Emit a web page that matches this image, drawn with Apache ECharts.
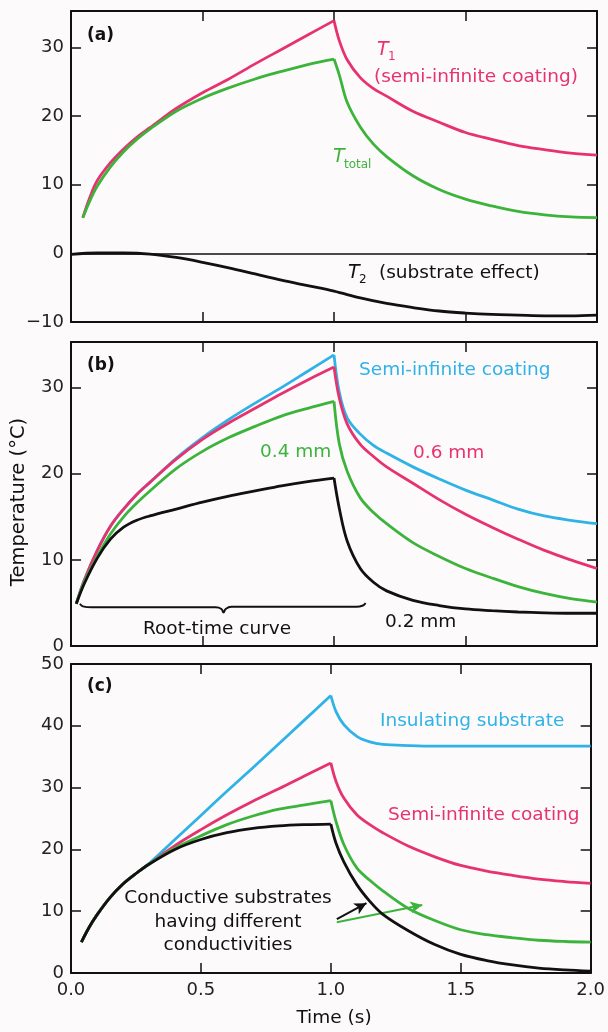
<!DOCTYPE html>
<html>
<head>
<meta charset="utf-8">
<script src="https://cdn.jsdelivr.net/npm/echarts@6.0.0/dist/echarts.min.js"></script>
<style>
html, body { margin: 0; padding: 0; background: #fdfafc; }
#chart { width: 608px; height: 1032px; }
</style>
</head>
<body>
<div id="chart"></div>
<script>
// panel (a): semi-infinite coating, total, substrate effect
const timeA = [0.045, 0.07, 0.1, 0.15, 0.2, 0.25, 0.3, 0.4, 0.5, 0.6, 0.7, 0.8, 0.9, 1.0, 1.02, 1.05, 1.1, 1.15, 1.2, 1.3, 1.4, 1.5, 1.6, 1.7, 1.8, 1.9, 2.0]
const t1A = [5.2, 8.0, 10.6, 13.2, 15.2, 16.9, 18.3, 21.1, 23.4, 25.4, 27.6, 29.7, 31.8, 33.9, 31.0, 28.2, 25.6, 24.0, 22.9, 20.7, 19.1, 17.6, 16.6, 15.7, 15.1, 14.6, 14.3]
const totalA = [5.2, 7.5, 9.8, 12.6, 14.8, 16.6, 18.1, 20.7, 22.6, 24.1, 25.4, 26.5, 27.5, 28.3, 26.0, 22.0, 18.4, 15.9, 14.1, 11.3, 9.3, 7.9, 6.9, 6.1, 5.6, 5.3, 5.2]
const timeT2 = [0, 0.1, 0.2, 0.3, 0.4, 0.5, 0.6, 0.7, 0.8, 0.9, 1.0, 1.1, 1.2, 1.3, 1.4, 1.5, 1.6, 1.7, 1.8, 1.9, 2.0]
const t2A = [-0.15, 0.05, 0.05, -0.1, -0.6, -1.3, -2.1, -3.0, -3.9, -4.7, -5.5, -6.5, -7.3, -7.9, -8.4, -8.7, -8.9, -9.0, -9.1, -9.1, -9.0]

// panel (b): coating thickness
const timeB = [0.02, 0.05, 0.1, 0.15, 0.2, 0.25, 0.3, 0.4, 0.5, 0.6, 0.7, 0.8, 0.9, 1.0, 1.02, 1.05, 1.1, 1.15, 1.2, 1.3, 1.4, 1.5, 1.6, 1.7, 1.8, 1.9, 2.0]
const semiB = [4.9, 7.6, 11.1, 13.9, 15.9, 17.6, 19.0, 21.8, 24.2, 26.3, 28.2, 30.0, 31.9, 33.8, 29.5, 26.5, 24.6, 23.3, 22.4, 20.8, 19.4, 18.1, 17.0, 15.9, 15.1, 14.6, 14.2]
const mm06 = [4.9, 7.6, 11.1, 13.9, 15.9, 17.6, 19.0, 21.7, 24.0, 25.9, 27.6, 29.3, 30.9, 32.4, 28.8, 25.8, 23.4, 22.0, 20.8, 18.9, 17.0, 15.3, 13.8, 12.4, 11.1, 10.0, 9.0]
const mm04 = [4.9, 7.4, 10.4, 13.0, 15.0, 16.6, 18.0, 20.6, 22.6, 24.2, 25.5, 26.7, 27.6, 28.4, 23.5, 20.3, 17.2, 15.5, 14.2, 12.0, 10.4, 9.0, 7.9, 6.9, 6.1, 5.5, 5.1]
const mm02 = [4.9, 7.2, 10.2, 12.4, 13.8, 14.6, 15.1, 15.9, 16.7, 17.4, 18.0, 18.6, 19.1, 19.5, 16.0, 12.2, 9.0, 7.4, 6.4, 5.3, 4.7, 4.3, 4.1, 3.95, 3.85, 3.8, 3.8]
const braceX = [0.034, 0.045, 0.08, 0.55, 0.572, 0.58, 0.588, 0.61, 1.085, 1.11, 1.12]
const braceY = [4.9, 4.6, 4.49, 4.49, 4.3, 3.9, 4.3, 4.55, 4.55, 4.7, 5.0]

// panel (c): substrate conductivity
const timeC = [0.04, 0.07, 0.1, 0.15, 0.2, 0.25, 0.3, 0.4, 0.5, 0.6, 0.7, 0.8, 0.9, 1.0, 1.02, 1.05, 1.1, 1.15, 1.2, 1.3, 1.4, 1.5, 1.6, 1.7, 1.8, 1.9, 2.0]
const insulC = [5.0, 7.4, 9.4, 12.2, 14.4, 16.1, 17.7, 21.6, 25.5, 29.4, 33.2, 37.1, 41.0, 44.9, 42.3, 40.2, 38.3, 37.4, 37.0, 36.8, 36.7, 36.7, 36.7, 36.7, 36.7, 36.7, 36.7]
const semiC = [5.0, 7.4, 9.4, 12.2, 14.4, 16.1, 17.6, 20.6, 23.2, 25.6, 27.8, 29.8, 31.9, 34.0, 31.0, 28.3, 25.6, 24.0, 22.7, 20.5, 18.8, 17.4, 16.5, 15.8, 15.2, 14.8, 14.5]
const condGreen = [5.0, 7.4, 9.4, 12.2, 14.4, 16.1, 17.6, 20.2, 22.2, 24.0, 25.4, 26.5, 27.2, 27.9, 24.5, 20.8, 17.0, 15.0, 13.3, 10.4, 8.5, 7.0, 6.2, 5.7, 5.3, 5.1, 5.0]
const condBlack = [5.0, 7.4, 9.4, 12.2, 14.4, 16.1, 17.6, 20.0, 21.6, 22.7, 23.4, 23.8, 24.0, 24.1, 21.0, 18.0, 14.3, 11.6, 9.5, 6.8, 4.6, 3.0, 2.0, 1.3, 0.8, 0.5, 0.3]
const arrowBlack = [[1.023, 8.7], [1.137, 11.3]]
const arrowGreen = [[1.023, 8.2], [1.352, 11.0]]

const xTicks = [0, 2, 0.5]
const yRanges = [[-10, 35.3], [0, 35.3], [0, 50]]

const PINK = '#e6336f'
const BLUE = '#2fb3e6'
const GREEN = '#3cb43c'
const BLACK = '#111111'
const FONT = 'DejaVu Sans'
const PEAK = 13

var myChart = echarts.init(document.getElementById('chart'))

const grids = [
  { left: 71, right: 11, top: 11, height: 311 },
  { left: 71, right: 11, top: 342, height: 304 },
  { left: 71, right: 11, top: 664, height: 309 }
]

let xAxes = []
let yAxes = []
for (let g = 0; g < 3; g++) {
  for (const pos of ['bottom', 'top']) {
    xAxes.push({
      type: 'value', gridIndex: g, position: pos,
      min: xTicks[0], max: xTicks[1], interval: xTicks[2],
      axisLine: { show: true, onZero: false, lineStyle: { color: BLACK, width: 2 } },
      axisTick: { inside: true, length: 10, lineStyle: { color: BLACK, width: 1.5 } },
      axisLabel: {
        show: g === 2 && pos === 'bottom', margin: 8,
        color: '#222', fontSize: 18, fontFamily: FONT,
        formatter: v => v.toFixed(1)
      },
      splitLine: { show: false }
    })
  }
  for (const pos of ['left', 'right']) {
    yAxes.push({
      type: 'value', gridIndex: g, position: pos,
      min: yRanges[g][0], max: yRanges[g][1], interval: 10,
      axisLine: { show: true, onZero: false, lineStyle: { color: BLACK, width: 2 } },
      axisTick: { inside: true, length: 10, lineStyle: { color: BLACK, width: 1.5 } },
      axisLabel: {
        show: pos === 'left', margin: 7,
        color: '#222', fontSize: 18, fontFamily: FONT,
        formatter: v => (v % 10 === 0 ? (v < 0 ? '\u2212' + Math.abs(v) : String(v)) : '')
      },
      splitLine: { show: false }
    })
  }
}

function curve(g, xs, ys, color, z, peak) {
  const pts = xs.map((x, i) => [x, ys[i]])
  const parts = peak ? [pts.slice(0, peak + 1), pts.slice(peak)] : [pts]
  return parts.map(d => ({
    type: 'line', xAxisIndex: 2 * g, yAxisIndex: 2 * g, data: d,
    smooth: 0.35, showSymbol: false, silent: true, z: z,
    lineStyle: { color: color, width: 2.8 }, itemStyle: { color: color }
  }))
}

function arrow(pair, color) {
  return {
    silent: true, symbol: ['none', 'arrow'], symbolSize: [9, 12],
    label: { show: false },
    lineStyle: { color: color, width: 2, type: 'solid' },
    data: [[{ coord: pair[0] }, { coord: pair[1] }]]
  }
}

let series = [].concat(
  curve(0, timeA, t1A, PINK, 2, PEAK),
  curve(0, timeA, totalA, GREEN, 3, PEAK),
  curve(0, timeT2, t2A, BLACK, 4),
  curve(1, timeB, semiB, BLUE, 2, PEAK),
  curve(1, timeB, mm06, PINK, 3, PEAK),
  curve(1, timeB, mm04, GREEN, 4, PEAK),
  curve(1, timeB, mm02, BLACK, 5, PEAK),
  curve(2, timeC, insulC, BLUE, 2, PEAK),
  curve(2, timeC, semiC, PINK, 3, PEAK),
  curve(2, timeC, condGreen, GREEN, 4, PEAK),
  curve(2, timeC, condBlack, BLACK, 5, PEAK)
)

// zero line in panel (a)
series[4].markLine = {
  silent: true, symbol: 'none', label: { show: false },
  lineStyle: { color: BLACK, width: 1.5, type: 'solid' },
  data: [{ yAxis: 0 }]
}

// brace under the root-time part of panel (b)
series.push({
  type: 'line', xAxisIndex: 2, yAxisIndex: 2,
  data: braceX.map((x, i) => [x, braceY[i]]),
  smooth: 0.4, showSymbol: false, silent: true,
  lineStyle: { color: BLACK, width: 2 }
})

// arrows in panel (c)
series.push({
  type: 'line', xAxisIndex: 4, yAxisIndex: 4, data: [], silent: true,
  markLine: arrow(arrowBlack, BLACK)
})
series.push({
  type: 'line', xAxisIndex: 4, yAxisIndex: 4, data: [], silent: true,
  markLine: arrow(arrowGreen, GREEN)
})

function txt(x, y, text, color, font, align, extra) {
  return Object.assign({
    type: 'text', x: x, y: y, silent: true, z: 100,
    style: {
      text: text, fill: color, font: font,
      align: align || 'left', verticalAlign: 'middle',
      textAlign: align || 'left', textVerticalAlign: 'middle'
    }
  }, extra || {})
}

const LBL = '18.5px "' + FONT + '"'
const ITAL = 'italic 19px "' + FONT + '"'
const SUB = '12px "' + FONT + '"'
const BOLD = 'bold 17px "' + FONT + '"'

const graphics = [
  txt(87, 36, '(a)', BLACK, BOLD),
  txt(377, 50, 'T', PINK, ITAL),
  txt(388, 57, '1', PINK, SUB),
  txt(374, 77, '(semi-infinite coating)', PINK, LBL),
  txt(333, 157, 'T', GREEN, ITAL),
  txt(344, 165, 'total', GREEN, SUB),
  txt(348, 273, 'T', BLACK, ITAL),
  txt(359, 280, '2', BLACK, SUB),
  txt(379, 273, '(substrate effect)', BLACK, LBL),

  txt(87, 366, '(b)', BLACK, BOLD),
  txt(359, 370, 'Semi-infinite coating', BLUE, LBL),
  txt(260, 452, '0.4 mm', GREEN, LBL),
  txt(413, 453, '0.6 mm', PINK, LBL),
  txt(143, 629, 'Root-time curve', BLACK, LBL),
  txt(385, 622, '0.2 mm', BLACK, LBL),

  txt(87, 687, '(c)', BLACK, BOLD),
  txt(380, 721, 'Insulating substrate', BLUE, LBL),
  txt(388, 815, 'Semi-infinite coating', PINK, LBL),
  txt(228, 922, 'Conductive substrates\nhaving different\nconductivities', BLACK, LBL, 'center'),

  txt(334, 1018, 'Time (s)', BLACK, LBL, 'center'),
  txt(19, 502, 'Temperature (\u00b0C)', BLACK, '19.5px "' + FONT + '"', 'center', { rotation: Math.PI / 2 })
]
graphics[18].style.lineHeight = 23.5

myChart.setOption({
  backgroundColor: '#fdfafc',
  animation: false,
  grid: grids,
  xAxis: xAxes,
  yAxis: yAxes,
  series: series,
  graphic: graphics
})
</script>
</body>
</html>
